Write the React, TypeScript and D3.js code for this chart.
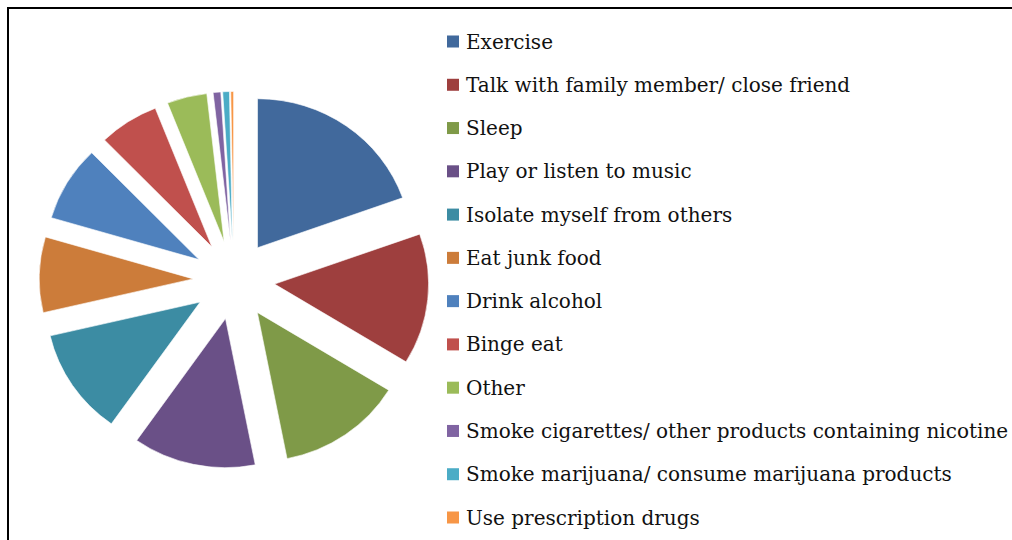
import * as d3 from "d3";

// coping strategies, share of responses (%)
const categories = [
  "Exercise",
  "Talk with family member/ close friend",
  "Sleep",
  "Play or listen to music",
  "Isolate myself from others",
  "Eat junk food",
  "Drink alcohol",
  "Binge eat",
  "Other",
  "Smoke cigarettes/ other products containing nicotine",
  "Smoke marijuana/ consume marijuana products",
  "Use prescription drugs",
];
const shares = [19.6, 14.2, 13.2, 12.9, 11.6, 8.2, 8.2, 6.3, 4.2, 0.8, 0.7, 0.3];
const colors = [
  "#41699c", "#9e3f3e", "#7f9a48", "#6a5087", "#3c8ca3", "#cc7c3a",
  "#4f81bd", "#c0504d", "#9bbb59", "#8064a2", "#4bacc6", "#f79646",
];

const W = 1012;
const H = 540;
const cx = 234;
const cy = 280;
const radius = 151;
const explode = 40;
// the source image is a little wider than tall
const sx = 1.02;
const sy = 0.987;

export default function App() {
  const slices = d3.pie<number>().sort(null).value((d) => d)(shares);
  const arc = d3.arc<d3.PieArcDatum<number>>().innerRadius(0).outerRadius(radius);

  const rows = d3.scalePoint<string>().domain(categories).range([41.5, 517.5]);

  return (
    <svg
      width={W}
      height={H}
      style={{ position: "absolute", left: 0, top: 0, background: "#fff" }}
    >
      <rect x={8} y={8} width={W} height={H} fill="#fff" stroke="#000" strokeWidth={2} />
      <g transform={`translate(${cx},${cy}) scale(${sx},${sy})`}>
        {slices.map((s, i) => {
          const mid = (s.startAngle + s.endAngle) / 2;
          const dx = Math.sin(mid) * explode;
          const dy = -Math.cos(mid) * explode;
          return (
            <path
              key={categories[i]}
              d={arc(s) ?? ""}
              transform={`translate(${dx},${dy})`}
              fill={colors[i]}
              stroke="#fff"
              strokeWidth={0.6}
            />
          );
        })}
      </g>
      <g fontFamily="'DejaVu Serif', serif" fontSize={20} fill="#111">
        {categories.map((c, i) => {
          const y = rows(c) ?? 0;
          return (
            <g key={c}>
              <rect x={447} y={y - 6} width={12} height={12} fill={colors[i]} />
              <text x={466} y={y + 7}>
                {c}
              </text>
            </g>
          );
        })}
      </g>
    </svg>
  );
}
